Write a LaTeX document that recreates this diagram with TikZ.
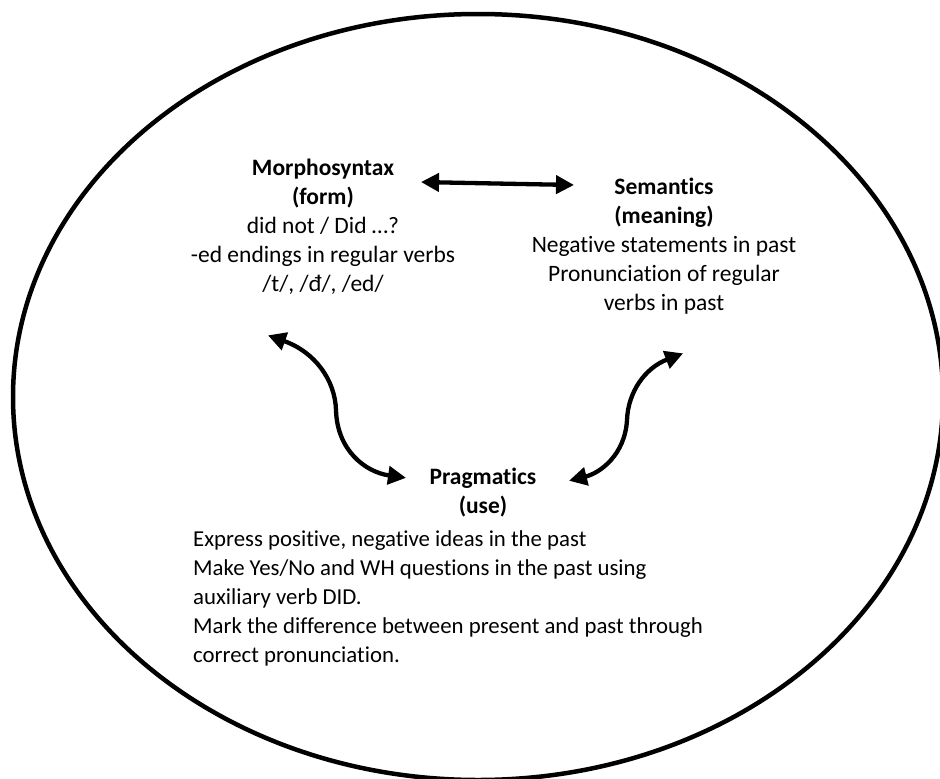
\documentclass[tikz,border=0pt]{standalone}
\usepackage{fontspec}
\setmainfont{Carlito}[Ligatures=NoCommon]
\usetikzlibrary{arrows.meta}
\tikzset{
  txt/.style={inner sep=0pt, font=\fontsize{23.5}{29}\selectfont},
  bodytxt/.style={inner sep=0pt, font=\fontsize{22.8}{29}\selectfont},
  link/.style={line width=4.3pt, {Triangle[length=18pt,width=18pt]}-{Triangle[length=18pt,width=18pt]}, shorten <=1pt, shorten >=1pt},
}
\begin{document}
\begin{tikzpicture}[x=1pt,y=-1pt]
\useasboundingbox (0,0) rectangle (940,779);
\draw[line width=4.5pt] (478,397) ellipse [x radius=465, y radius=383];
\node[txt, align=center] (morph) at (323,227) {\textbf{Morphosyntax}\\\textbf{(form)}\\did not / Did …?\\-ed endings in regular verbs\\/t/, /đ/, /ed/};
\node[txt, align=center] (sem) at (664,246) {\textbf{Semantics}\\\textbf{(meaning)}\\Negative statements in past\\Pronunciation of regular\\verbs in past};
\node[txt, align=center] (prag) at (483,493) {\textbf{Pragmatics}\\\textbf{(use)}};
\node[bodytxt, align=left, anchor=north west] (pragtext) at (193,530) {Express positive, negative ideas in the past\\Make Yes/No and WH questions in the past using\\auxiliary verb DID.\\Mark the difference between present and past through\\correct pronunciation.};
\coordinate (m1) at (420,182);
\coordinate (s1) at (575,185);
\coordinate (m2) at (267,335);
\coordinate (p1) at (407,478);
\coordinate (s2) at (684,353);
\coordinate (p2) at (568,481);
\draw[link] (m1) .. controls (470,183) and (520,184) .. (s1);
\draw[link] (m2) .. controls (315,352) and (335,380) .. (336,410) .. controls (337,450) and (365,472) .. (p1);
\draw[link] (s2) .. controls (645,368) and (628,392) .. (627,420) .. controls (625,455) and (600,473) .. (p2);
\end{tikzpicture}
\end{document}
